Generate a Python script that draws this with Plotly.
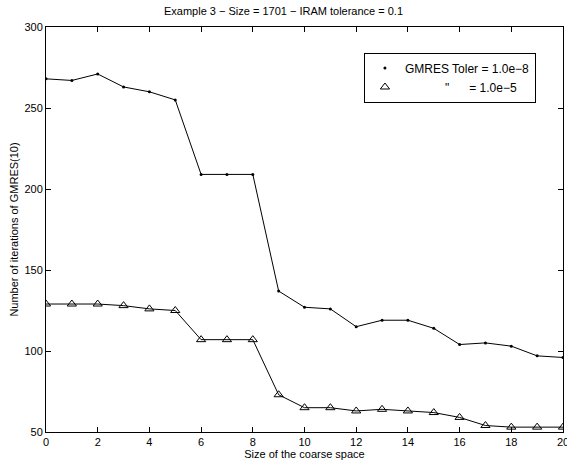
import plotly.graph_objects as go

coarse_size = list(range(0, 21))
gmres_1e8 = [268, 267, 271, 263, 260, 255, 209, 209, 209, 137, 127, 126, 115, 119, 119, 114, 104, 105, 103, 97, 96]
gmres_1e5 = [129, 129, 129, 128, 126, 125, 107, 107, 107, 73, 65, 65, 63, 64, 63, 62, 59, 54, 53, 53, 53]

title_text = "Example 3 \u2212 Size = 1701 \u2212 IRAM tolerance = 0.1"
legend_1 = "GMRES Toler = 1.0e\u22128"
legend_2 = "\u00a0" * 12 + "\"" + "\u00a0" * 6 + "= 1.0e\u22125"

font = dict(family="Liberation Sans, Arial, Helvetica, sans-serif", size=11, color="black")

fig = go.Figure()
fig.add_trace(go.Scatter(x=coarse_size, y=gmres_1e8, mode="lines+markers",
                         line=dict(color="black", width=1),
                         marker=dict(symbol="circle", size=3, color="black"),
                         showlegend=False))
fig.add_trace(go.Scatter(x=coarse_size, y=gmres_1e5, mode="lines+markers",
                         line=dict(color="black", width=1),
                         marker=dict(symbol="triangle-up-open", size=8, color="black",
                                     line=dict(width=1, color="black")),
                         showlegend=False))
# legend entries (markers only)
fig.add_trace(go.Scatter(x=[None], y=[None], mode="markers", name=legend_1,
                         marker=dict(symbol="circle", size=3, color="black")))
fig.add_trace(go.Scatter(x=[None], y=[None], mode="markers", name=legend_2,
                         marker=dict(symbol="triangle-up-open", size=8, color="black",
                                     line=dict(width=1, color="black"))))

axis_common = dict(showgrid=False, zeroline=False, showline=True, linecolor="black",
                   linewidth=1, mirror="ticks", ticks="inside", ticklen=5,
                   tickcolor="black", tickfont=font, ticklabeloverflow="allow")

fig.update_layout(
    width=567, height=464,
    margin=dict(l=46, r=4, t=27, b=32, autoexpand=False),
    paper_bgcolor="white", plot_bgcolor="white",
    font=font,
    title=dict(text=title_text, x=0.5, xanchor="center", y=0.975, yanchor="middle",
               font=dict(size=11)),
    xaxis=dict(range=[0, 20], tickvals=list(range(0, 21, 2)),
               title=dict(text="Size of the coarse space", standoff=2, font=font),
               **axis_common),
    yaxis=dict(range=[50, 300], tickvals=[50, 100, 150, 200, 250, 300],
               title=dict(text="Number of iterations of GMRES(10)", standoff=3, font=font),
               **axis_common),
    legend=dict(x=0.615, y=0.937, xanchor="left", yanchor="top",
                bordercolor="black", borderwidth=1, bgcolor="white",
                font=dict(size=12, color="black"), tracegroupgap=0, itemwidth=30,
                itemsizing="trace"),
)

fig.write_html("out.html")
